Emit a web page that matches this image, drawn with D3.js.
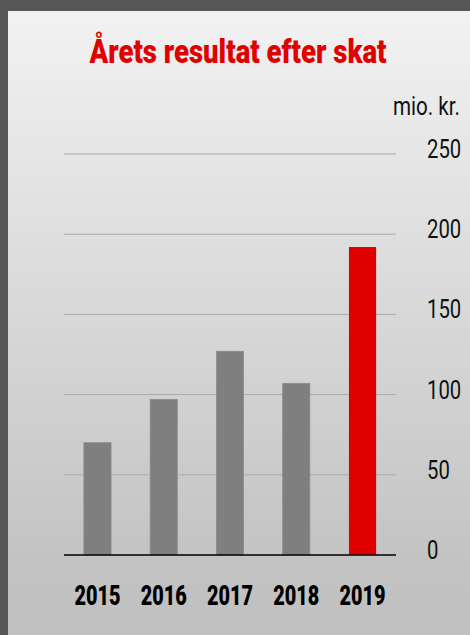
<!DOCTYPE html>
<meta charset="utf-8">
<script src="https://d3js.org/d3.v7.min.js"></script>
<style>
  body { margin: 0; background: #575757; }
  svg { display: block; }
</style>
<body>
<div id="chart"></div>
<script>
// data
var years = ["2015", "2016", "2017", "2018", "2019"];
var values = [70, 97, 127, 107, 192];
var yTicks = [0, 50, 100, 150, 200, 250];
var title = "Årets resultat efter skat";
var unit = "mio. kr.";

var W = 470, H = 635;

var svg = d3.select("#chart").append("svg")
    .attr("width", W)
    .attr("height", H);

// background panel with vertical gradient
var grad = svg.append("defs").append("linearGradient")
    .attr("id", "bg").attr("x1", 0).attr("y1", 0).attr("x2", 0).attr("y2", 1);
grad.append("stop").attr("offset", "0%").attr("stop-color", "#f2f2f2");
grad.append("stop").attr("offset", "90%").attr("stop-color", "#c2c2c2");
grad.append("stop").attr("offset", "100%").attr("stop-color", "#c1c1c1");

svg.append("rect").attr("width", W).attr("height", H).attr("fill", "#575757");
svg.append("rect")
    .attr("x", 8).attr("y", 11)
    .attr("width", W - 8).attr("height", H - 11)
    .attr("fill", "url(#bg)");

// scales
var x = d3.scaleBand()
    .domain(years)
    .range([64, 396])
    .paddingInner(0.59)
    .paddingOuter(0.3);

var y = d3.scaleLinear()
    .domain([0, 250])
    .range([555, 154]);

// gridlines
svg.append("g").selectAll("line")
  .data(yTicks.filter(function(d) { return d > 0; }))
  .enter().append("line")
    .attr("x1", 64).attr("x2", 396)
    .attr("y1", function(d) { return y(d); })
    .attr("y2", function(d) { return y(d); })
    .attr("stroke", "#ababab")
    .attr("stroke-width", 1);

// bars
svg.append("g").selectAll("rect")
  .data(values)
  .enter().append("rect")
    .attr("x", function(d, i) { return x(years[i]); })
    .attr("y", function(d) { return y(d); })
    .attr("width", x.bandwidth())
    .attr("height", function(d) { return y(0) - y(d); })
    .attr("fill", function(d, i) { return i === values.length - 1 ? "#e10000" : "#7f7f7f"; })
    .attr("stroke", function(d, i) { return i === values.length - 1 ? "none" : "#8c8c8c"; })
    .attr("stroke-width", 0.8);

// baseline
svg.append("line")
    .attr("x1", 64).attr("x2", 396)
    .attr("y1", y(0)).attr("y2", y(0))
    .attr("stroke", "#000")
    .attr("stroke-width", 1.5);

// right axis labels
svg.append("g").selectAll("text")
  .data(yTicks)
  .enter().append("text")
    .attr("x", 427)
    .attr("y", function(d) { return y(d) + 4; })
    .attr("font-family", "Roboto, 'DejaVu Sans', sans-serif")
    .attr("font-weight", 400)
    .attr("font-size", 26)
    .attr("fill", "#111")
    .attr("textLength", function(d) { return String(d).length * 11.4; })
    .attr("lengthAdjust", "spacingAndGlyphs")
    .text(function(d) { return d; });

// unit label
svg.append("text")
    .attr("x", 460)
    .attr("y", 115)
    .attr("text-anchor", "end")
    .attr("font-family", "Roboto, 'DejaVu Sans', sans-serif")
    .attr("font-weight", 400)
    .attr("font-size", 25)
    .attr("fill", "#111")
    .attr("textLength", 67)
    .attr("lengthAdjust", "spacingAndGlyphs")
    .text(unit);

// x axis labels
svg.append("g").selectAll("text")
  .data(years)
  .enter().append("text")
    .attr("x", function(d) { return x(d) + x.bandwidth() / 2; })
    .attr("y", 605)
    .attr("text-anchor", "middle")
    .attr("font-family", "Roboto, 'DejaVu Sans', sans-serif")
    .attr("font-weight", 900)
    .attr("font-size", 28)
    .attr("fill", "#000")
    .attr("textLength", 46)
    .attr("lengthAdjust", "spacingAndGlyphs")
    .text(function(d) { return d; });

// title
svg.append("text")
    .attr("x", 238)
    .attr("y", 63)
    .attr("text-anchor", "middle")
    .attr("font-family", "Roboto, 'DejaVu Sans', sans-serif")
    .attr("font-weight", 900)
    .attr("font-size", 33)
    .attr("fill", "#e10000")
    .attr("textLength", 297)
    .attr("lengthAdjust", "spacingAndGlyphs")
    .text(title);
</script>
</body>
